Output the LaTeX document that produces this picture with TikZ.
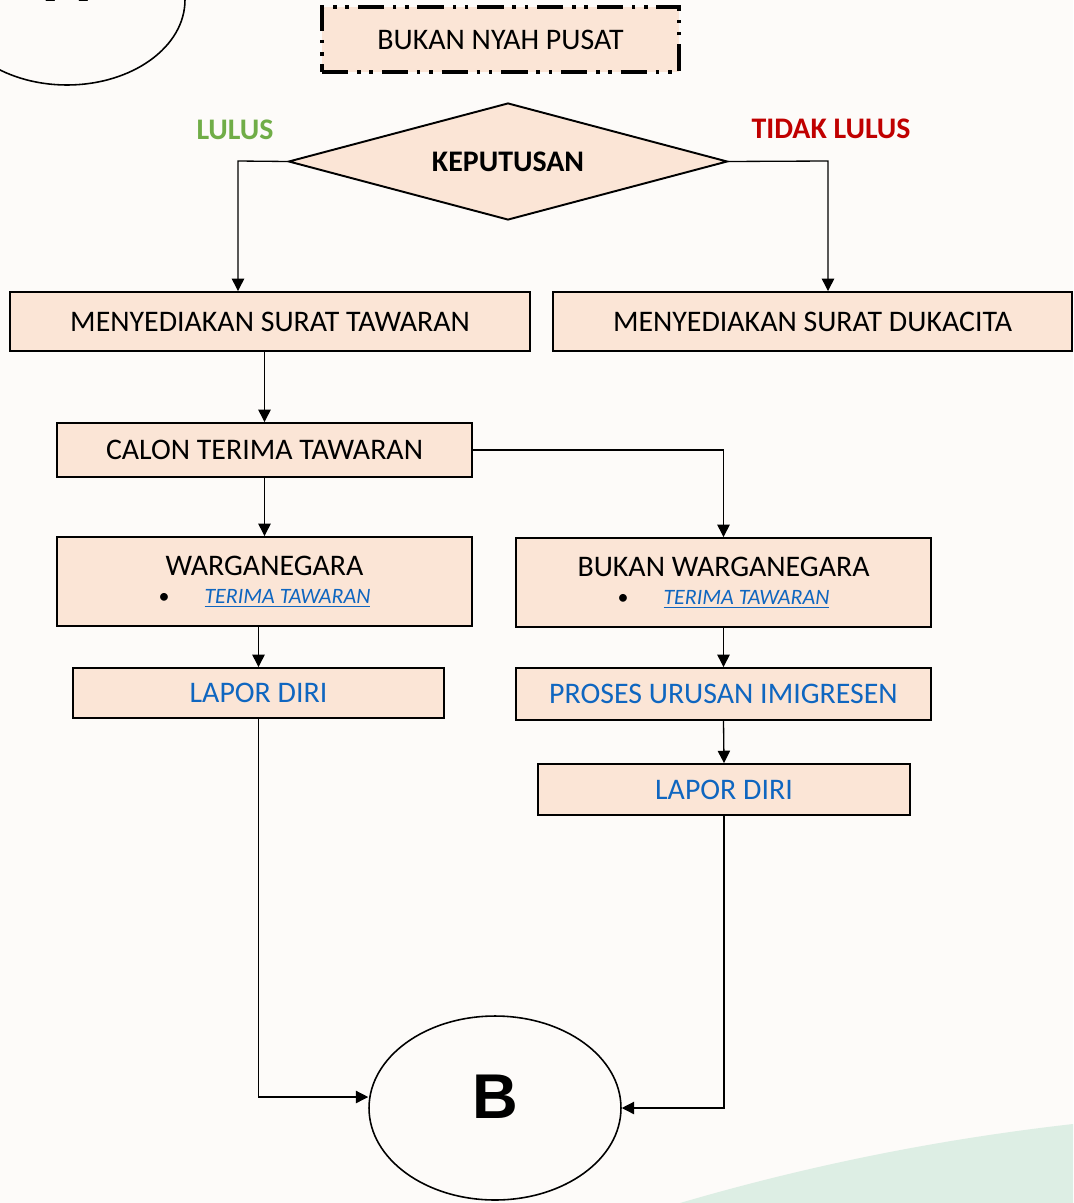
\documentclass[tikz,border=0pt]{standalone}
\usepackage{fontspec}
\setmainfont{Carlito}
\newfontfamily\hurufbesar{Liberation Sans}
\usetikzlibrary{shapes.geometric,arrows.meta}

\definecolor{peach}{HTML}{FBE5D6}
\definecolor{linkblue}{HTML}{0F66C0}
\definecolor{lulusgreen}{HTML}{70AD47}
\definecolor{gagalred}{HTML}{C00000}
\definecolor{paper}{HTML}{FDFBF9}
\definecolor{wash}{HTML}{DDEEE4}

\newcommand\saiz{\fontsize{17}{20}\selectfont}
\newcommand\tawaranpautan{{\fontsize{12.5}{14}\selectfont\textbullet\hspace{0.7cm}\textcolor{linkblue}{\underline{\itshape TERIMA TAWARAN}}}}

\begin{document}
\begin{tikzpicture}[x=0.02cm,y=-0.02cm,>={Triangle[length=7pt,width=7pt]},
  kotak/.style={draw,fill=peach,line width=1.1pt,inner sep=0pt,font=\saiz},
  pilihan/.style={diamond,aspect=3.75,draw,fill=peach,line width=1.1pt,inner sep=0pt,font=\saiz\bfseries},
  penyambung/.style={ellipse,draw,line width=0.9pt,inner sep=0pt,font=\hurufbesar\bfseries\fontsize{36}{36}\selectfont,text depth=0.44cm},
  aliran/.style={->,line width=0.75pt}]
\useasboundingbox (0,0) rectangle (1073,1203);
\clip (0,0) rectangle (1073,1203);
\fill[paper] (0,0) rectangle (1073,1203);
\fill[wash] (680,1203) .. controls (820,1162) and (950,1138) .. (1073,1124) -- (1073,1203) -- cycle;

% penyambung atas dan kotak mula
\node[penyambung, minimum width=4.72cm, minimum height=3.4cm, text depth=0.8cm] (titikA) at (67,0) {A};
\node[kotak, line width=1.8pt, dash pattern=on 15pt off 5pt on 2pt off 5pt on 2pt off 5pt, minimum width=7.14cm, minimum height=1.3cm] (nyah) at (500.5,39.5) {BUKAN NYAH PUSAT};

% keputusan
\node[pilihan, minimum width=8.78cm, minimum height=2.34cm] (keputusan) at (508,161.5) {KEPUTUSAN};
\node[font=\saiz\bfseries, text=lulusgreen] (lulus) at (235,130) {LULUS};
\node[font=\saiz\bfseries, text=gagalred] (tidaklulus) at (831,129) {TIDAK LULUS};

% surat
\node[kotak, minimum width=10.4cm, minimum height=1.18cm] (tawaran) at (270,321.5) {MENYEDIAKAN SURAT TAWARAN};
\node[kotak, minimum width=10.38cm, minimum height=1.18cm] (dukacita) at (812.5,321.5) {MENYEDIAKAN SURAT DUKACITA};
\node[kotak, minimum width=8.3cm, minimum height=1.08cm] (calon) at (264.5,450) {CALON TERIMA TAWARAN};

% warganegara / bukan warganegara
\node[kotak, minimum width=8.3cm, minimum height=1.78cm, align=center] (warga) at (264.5,581.5) {WARGANEGARA\\[-4pt]\tawaranpautan};
\node[kotak, minimum width=8.3cm, minimum height=1.78cm, align=center] (bukanwarga) at (723.5,582.5) {BUKAN WARGANEGARA\\[-4pt]\tawaranpautan};
\node[kotak, minimum width=7.42cm, minimum height=1cm, text=linkblue] (laporsatu) at (258.5,693) {LAPOR DIRI};
\node[kotak, minimum width=8.3cm, minimum height=1.04cm, text=linkblue] (imigresen) at (723.5,694) {PROSES URUSAN IMIGRESEN};
\node[kotak, minimum width=7.44cm, minimum height=1.02cm, text=linkblue] (lapordua) at (724,789.5) {LAPOR DIRI};

% penyambung bawah
\node[penyambung, minimum width=5.04cm, minimum height=3.68cm] (titikB) at (495,1108) {B};

\coordinate (belokkiri) at (238,161);
\coordinate (belokkanan) at (828,161);
\draw[aliran] (keputusan.west) -- (belokkiri) -- (belokkiri |- tawaran.north);
\draw[aliran] (keputusan.east) -- (belokkanan) -- (belokkanan |- dukacita.north);
\draw[aliran] (calon.north |- tawaran.south) -- (calon.north);
\draw[aliran] (calon.south) -- (warga.north);
\draw[aliran] (calon.east) -| (bukanwarga.north);
\draw[aliran] (laporsatu.north |- warga.south) -- (laporsatu.north);
\draw[aliran] (bukanwarga.south) -- (imigresen.north);
\draw[aliran] (imigresen.south) -- (lapordua.north);
\draw[aliran] (laporsatu.south) |- ([yshift=0.22cm]titikB.west);
\draw[aliran] (lapordua.south) |- (titikB.east);
\end{tikzpicture}
\end{document}
